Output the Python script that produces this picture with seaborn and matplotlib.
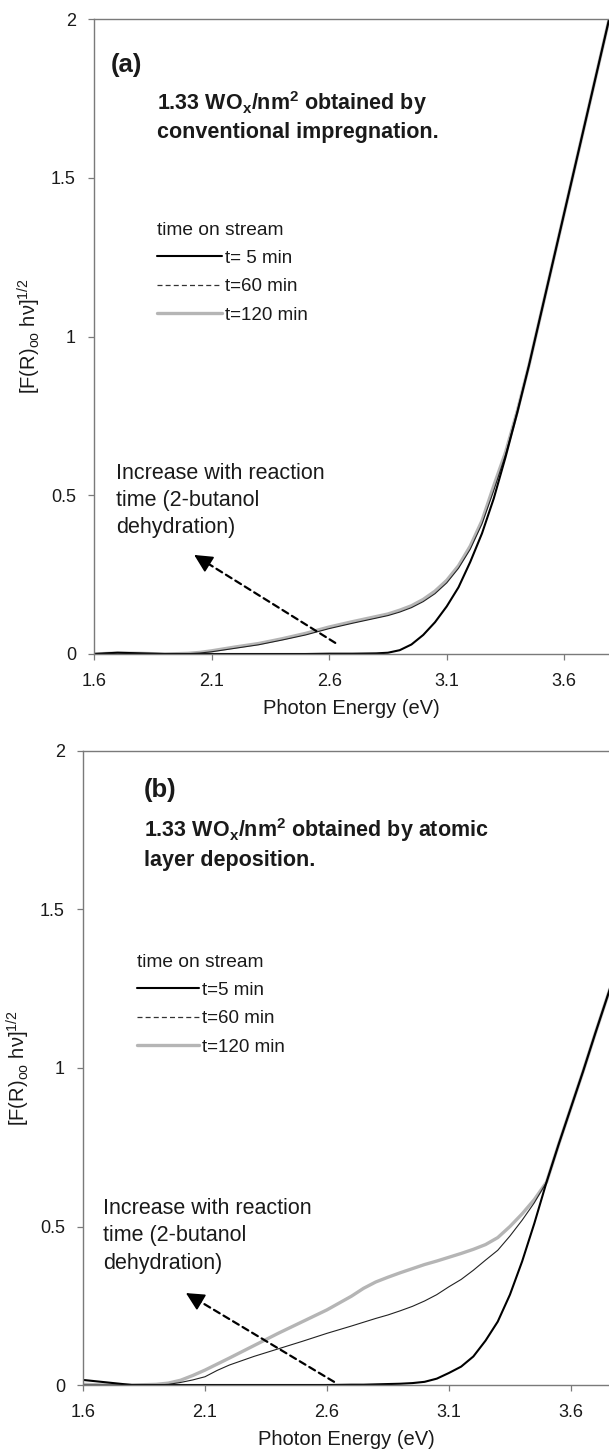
import numpy as np
import pandas as pd
import matplotlib
matplotlib.use("Agg")
import matplotlib.pyplot as plt
from matplotlib.lines import Line2D
import seaborn as sns

# ---------------- data ----------------
energy_a = [1.60, 1.70, 1.80, 1.90, 2.00, 2.05, 2.10, 2.20, 2.30, 2.40, 2.50, 2.60, 2.70,
            2.80, 2.85, 2.90, 2.95, 3.00, 3.05, 3.10, 3.15, 3.20, 3.25, 3.30, 3.35, 3.40,
            3.45, 3.50, 3.55, 3.60, 3.65, 3.70, 3.75, 3.80]
a_t5 = [0.000, 0.004, 0.002, 0.000, 0.000, 0.000, 0.000, 0.000, 0.000, 0.000, 0.000, 0.001, 0.001,
        0.002, 0.004, 0.012, 0.030, 0.060, 0.100, 0.150, 0.210, 0.290, 0.380, 0.490, 0.620, 0.760,
        0.910, 1.070, 1.230, 1.390, 1.550, 1.710, 1.870, 2.030]
a_t60 = [0.000, 0.004, 0.001, 0.000, 0.001, 0.003, 0.007, 0.018, 0.029, 0.044, 0.060, 0.080, 0.097,
         0.113, 0.121, 0.132, 0.146, 0.165, 0.190, 0.224, 0.270, 0.330, 0.410, 0.515, 0.628, 0.765,
         0.910, 1.070, 1.230, 1.390, 1.550, 1.710, 1.870, 2.030]
a_t120 = [0.000, 0.003, 0.002, 0.000, 0.002, 0.005, 0.010, 0.022, 0.033, 0.048, 0.065, 0.085, 0.102,
          0.118, 0.126, 0.138, 0.152, 0.172, 0.198, 0.232, 0.278, 0.340, 0.420, 0.530, 0.635, 0.765,
          0.910, 1.070, 1.230, 1.390, 1.550, 1.710, 1.870, 2.030]

energy_b = [1.60, 1.70, 1.80, 1.90, 1.95, 2.00, 2.05, 2.10, 2.15, 2.20, 2.30, 2.40, 2.50, 2.60,
            2.70, 2.75, 2.80, 2.85, 2.90, 2.95, 3.00, 3.05, 3.10, 3.15, 3.20, 3.25, 3.30, 3.35, 3.40,
            3.45, 3.50, 3.55, 3.60, 3.65, 3.70, 3.76]
b_t5 = [0.016, 0.008, 0.000, 0.000, 0.000, 0.000, 0.000, 0.000, 0.000, 0.000, 0.000, 0.000, 0.000, 0.000,
        0.001, 0.001, 0.002, 0.003, 0.004, 0.006, 0.010, 0.020, 0.038, 0.058, 0.090, 0.140, 0.200, 0.285,
        0.390, 0.510, 0.640, 0.760, 0.875, 0.990, 1.110, 1.250]
b_t60 = [0.000, 0.000, 0.000, 0.000, 0.002, 0.008, 0.016, 0.026, 0.046, 0.063, 0.090, 0.114, 0.138, 0.163,
         0.186, 0.198, 0.210, 0.221, 0.234, 0.248, 0.265, 0.285, 0.310, 0.333, 0.362, 0.394, 0.425, 0.470,
         0.520, 0.575, 0.640, 0.760, 0.875, 0.990, 1.110, 1.250]
b_t120 = [0.002, 0.000, 0.000, 0.002, 0.006, 0.015, 0.030, 0.047, 0.066, 0.085, 0.124, 0.163, 0.200, 0.237,
          0.280, 0.305, 0.325, 0.340, 0.354, 0.367, 0.380, 0.391, 0.403, 0.415, 0.428, 0.443, 0.465, 0.500,
          0.540, 0.585, 0.640, 0.760, 0.875, 0.990, 1.110, 1.250]

series_labels_a = ["t= 5 min", "t=60 min", "t=120 min"]
series_labels_b = ["t=5 min", "t=60 min", "t=120 min"]
x_ticks = [1.6, 2.1, 2.6, 3.1, 3.6]
y_ticks = [0, 0.5, 1, 1.5, 2]
y_ticklabels = ["0", "0.5", "1", "1.5", "2"]

# ---------------- style ----------------
sns.set_style("ticks")
plt.rcParams["font.family"] = ["Liberation Sans", "DejaVu Sans"]
plt.rcParams["mathtext.fontset"] = "custom"
plt.rcParams["mathtext.rm"] = "Liberation Sans"
plt.rcParams["mathtext.it"] = "Liberation Sans:italic"
plt.rcParams["mathtext.bf"] = "Liberation Sans:bold"

W, H = 609, 1449
fig = plt.figure(figsize=(W / 100, H / 100), dpi=100)

spine_col = "#7a7a7a"
txt_col = "#1a1a1a"


def make_axes(left_px, top_px, bottom_px, xmax):
    ax = fig.add_axes([left_px / W, 1 - bottom_px / H, 1 - left_px / W, (bottom_px - top_px) / H])
    ax.set_xlim(1.6, xmax)
    ax.set_ylim(0, 2)
    ax.set_xticks(x_ticks)
    ax.set_xticklabels([f"{t:.1f}" for t in x_ticks])
    ax.set_yticks(y_ticks)
    ax.set_yticklabels(y_ticklabels)
    for s in ["left", "top", "bottom"]:
        ax.spines[s].set_color(spine_col)
        ax.spines[s].set_linewidth(1.0)
    ax.spines["right"].set_visible(False)
    ax.tick_params(axis="both", colors=spine_col, labelcolor=txt_col, labelsize=13,
                   length=4, width=0.9)
    ax.tick_params(axis="x", pad=10)
    ax.tick_params(axis="y", pad=9)
    ax.set_xlabel("Photon Energy (eV)", fontsize=14.5, color=txt_col, labelpad=6)
    ax.set_ylabel(r"[F(R)$_{\mathrm{oo}}$ hν]$^{\mathrm{1/2}}$", fontsize=14.5, color=txt_col, labelpad=6)
    return ax


def draw_panel(ax, energy, t5, t60, t120, labels, tag, line1, line2, tag_xy, head_xy, leg_xy,
               inc_xy, arrow_tail, arrow_head, handlelen):
    sns.lineplot(x=energy, y=t120, ax=ax, color="#b5b5b5", lw=2.4, estimator=None, sort=False)
    sns.lineplot(x=energy, y=t60, ax=ax, color="#222222", lw=0.8, estimator=None, sort=False)
    sns.lineplot(x=energy, y=t5, ax=ax, color="black", lw=1.5, estimator=None, sort=False)

    ax.text(tag_xy[0], tag_xy[1], tag, fontsize=18.5, fontweight="bold", ha="left", va="center",
            color=txt_col)
    ax.text(head_xy[0], head_xy[1], line1, fontsize=15.5, fontweight="bold", ha="left",
            va="center", color=txt_col)
    ax.text(head_xy[0], head_xy[1] - head_xy[2], line2, fontsize=15.5, fontweight="bold",
            ha="left", va="center", color=txt_col)

    handles = [Line2D([], [], color="black", lw=1.5),
               Line2D([], [], color="#333333", lw=0.9, ls=(0, (4, 2.5))),
               Line2D([], [], color="#b5b5b5", lw=2.4)]
    leg = ax.legend(handles, labels, title="time on stream", loc="upper left",
                    bbox_to_anchor=leg_xy, bbox_transform=ax.transData, frameon=False,
                    fontsize=13.5, title_fontsize=13.8, handlelength=handlelen, handletextpad=0.15,
                    labelspacing=0.6, borderpad=0, borderaxespad=0, alignment="left")
    for t in leg.get_texts():
        t.set_color(txt_col)
    leg.get_title().set_color(txt_col)

    inc_lines = ["Increase with reaction", "time (2-butanol", "dehydration)"]
    for i, s in enumerate(inc_lines):
        ax.text(inc_xy[0], inc_xy[1] - i * inc_xy[2], s, fontsize=15.5, ha="left", va="center",
                color=txt_col)

    # dashed shaft
    ax.annotate("", xy=arrow_head, xytext=arrow_tail,
                arrowprops=dict(arrowstyle="-", lw=1.6, ls=(0, (3, 2)), color="black",
                                shrinkA=0, shrinkB=6))
    # solid filled head
    hx = arrow_head[0] + 0.06 * (arrow_tail[0] - arrow_head[0])
    hy = arrow_head[1] + 0.06 * (arrow_tail[1] - arrow_head[1])
    ax.annotate("", xy=arrow_head, xytext=(hx, hy),
                arrowprops=dict(arrowstyle="-|>,head_length=0.8,head_width=0.4", lw=1.2,
                                color="black", shrinkA=0, shrinkB=0, mutation_scale=14))


# panel (a)
ax_a = make_axes(94, 19, 654, 3.79)
draw_panel(ax_a, energy_a, a_t5, a_t60, a_t120, series_labels_a, "(a)",
           r"1.33 WO$\mathregular{_x}$/nm$\mathregular{^2}$ obtained by",
           "conventional impregnation.",
           (1.672, 1.855), (1.868, 1.735, 0.094), (1.868, 1.362),
           (1.694, 0.570, 0.085), (2.626, 0.035), (2.026, 0.312), 3.45)

# panel (b)
ax_b = make_axes(83, 751, 1385, 3.756)
draw_panel(ax_b, energy_b, b_t5, b_t60, b_t120, series_labels_b, "(b)",
           r"1.33 WO$\mathregular{_x}$/nm$\mathregular{^2}$ obtained by atomic",
           "layer deposition.",
           (1.85, 1.877), (1.85, 1.751, 0.095), (1.821, 1.361),
           (1.682, 0.558, 0.087), (2.629, 0.01), (2.022, 0.29), 3.3)

fig.savefig("out.png", dpi=100)
